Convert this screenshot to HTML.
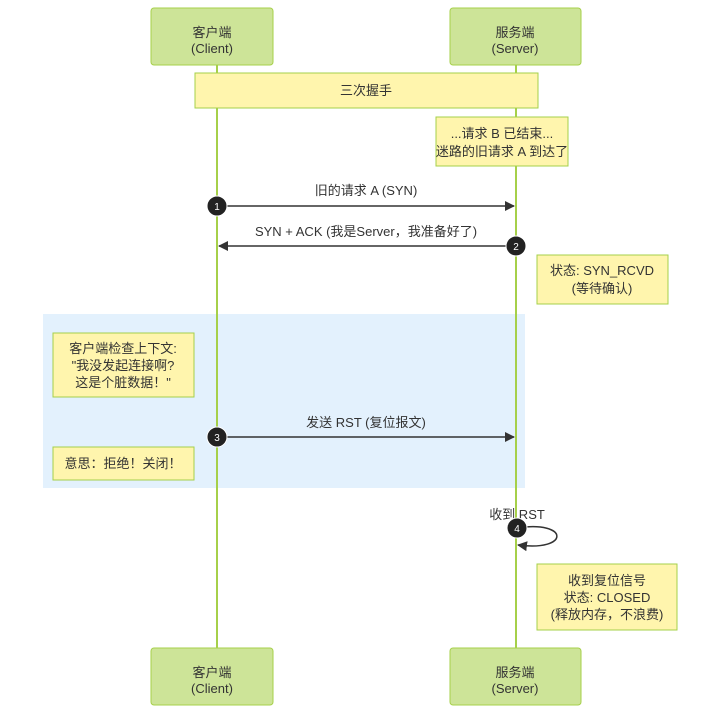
<!DOCTYPE html>
<html><head><meta charset="utf-8"><style>
body{margin:0;background:#fff;}
svg text{font-family:"Liberation Sans","Noto Sans CJK SC",sans-serif;font-size:13px;fill:#333;text-anchor:middle;}
</style></head><body>
<svg width="720" height="714" viewBox="0 0 720 714" xmlns="http://www.w3.org/2000/svg">
<defs><marker id="ah" markerWidth="10" markerHeight="10" refX="9" refY="5" orient="auto" markerUnits="userSpaceOnUse"><path d="M0,0 L10,5 L0,10 z" fill="#333"/></marker></defs>
<rect x="43" y="314" width="482" height="174" fill="#e3f1fd"/>
<line x1="217" y1="65" x2="217" y2="648" stroke="#a6d04a" stroke-width="2"/>
<line x1="516" y1="65" x2="516" y2="648" stroke="#a6d04a" stroke-width="2"/>
<g fill="#cde498" stroke="#a6d04a" stroke-width="1">
<rect x="151" y="8" width="122" height="57" rx="3"/>
<rect x="450" y="8" width="131" height="57" rx="3"/>
<rect x="151" y="648" width="122" height="57" rx="3"/>
<rect x="450" y="648" width="131" height="57" rx="3"/>
</g>
<text x="212" y="37">客户端</text><text x="212" y="53">(Client)</text>
<text x="515" y="37">服务端</text><text x="515" y="53">(Server)</text>
<text x="212" y="677">客户端</text><text x="212" y="693">(Client)</text>
<text x="515" y="677">服务端</text><text x="515" y="693">(Server)</text>
<g fill="#fff5ad" stroke="#a6d04a" stroke-width="1">
<rect x="195" y="73" width="343" height="35"/>
<rect x="436" y="117" width="132" height="49"/>
<rect x="537" y="255" width="131" height="49"/>
<rect x="53" y="333" width="141" height="64"/>
<rect x="53" y="447" width="141" height="33"/>
<rect x="537" y="564" width="140" height="66"/>
</g>
<text x="366" y="95">三次握手</text>
<text x="502" y="138">...请求 B 已结束...</text><text x="502" y="156">迷路的旧请求 A 到达了</text>
<text x="602" y="275">状态: SYN_RCVD</text><text x="602" y="293">(等待确认)</text>
<text x="123" y="353">客户端检查上下文:</text><text x="123" y="370">"我没发起连接啊?</text><text x="123" y="387">这是个脏数据！"</text>
<text x="123" y="468">意思：拒绝！关闭！</text>
<text x="607" y="585">收到复位信号</text><text x="607" y="602">状态: CLOSED</text><text x="607" y="619">(释放内存，不浪费)</text>
<text x="366" y="195">旧的请求 A (SYN)</text>
<line x1="217" y1="206" x2="514" y2="206" stroke="#333" stroke-width="1.5" marker-end="url(#ah)"/>
<text x="366" y="236">SYN + ACK (我是Server，我准备好了)</text>
<line x1="516" y1="246" x2="219" y2="246" stroke="#333" stroke-width="1.5" marker-end="url(#ah)"/>
<text x="366" y="427">发送 RST (复位报文)</text>
<line x1="217" y1="437" x2="514" y2="437" stroke="#333" stroke-width="1.5" marker-end="url(#ah)"/>
<text x="517" y="519">收到 RST</text>
<path d="M517,528 C570,520 570,552 518,545" fill="none" stroke="#333" stroke-width="1.5" marker-end="url(#ah)"/>
<g fill="#222" stroke="#fff" stroke-width="1">
<circle cx="217" cy="206" r="10"/><circle cx="516" cy="246" r="10"/><circle cx="217" cy="437" r="10"/><circle cx="517" cy="528" r="10"/>
</g>
<g style="font-size:10px"><text x="217" y="210" style="fill:#fff;font-size:10px">1</text><text x="516" y="250" style="fill:#fff;font-size:10px">2</text><text x="217" y="441" style="fill:#fff;font-size:10px">3</text><text x="517" y="532" style="fill:#fff;font-size:10px">4</text></g>
</svg>
</body></html>
